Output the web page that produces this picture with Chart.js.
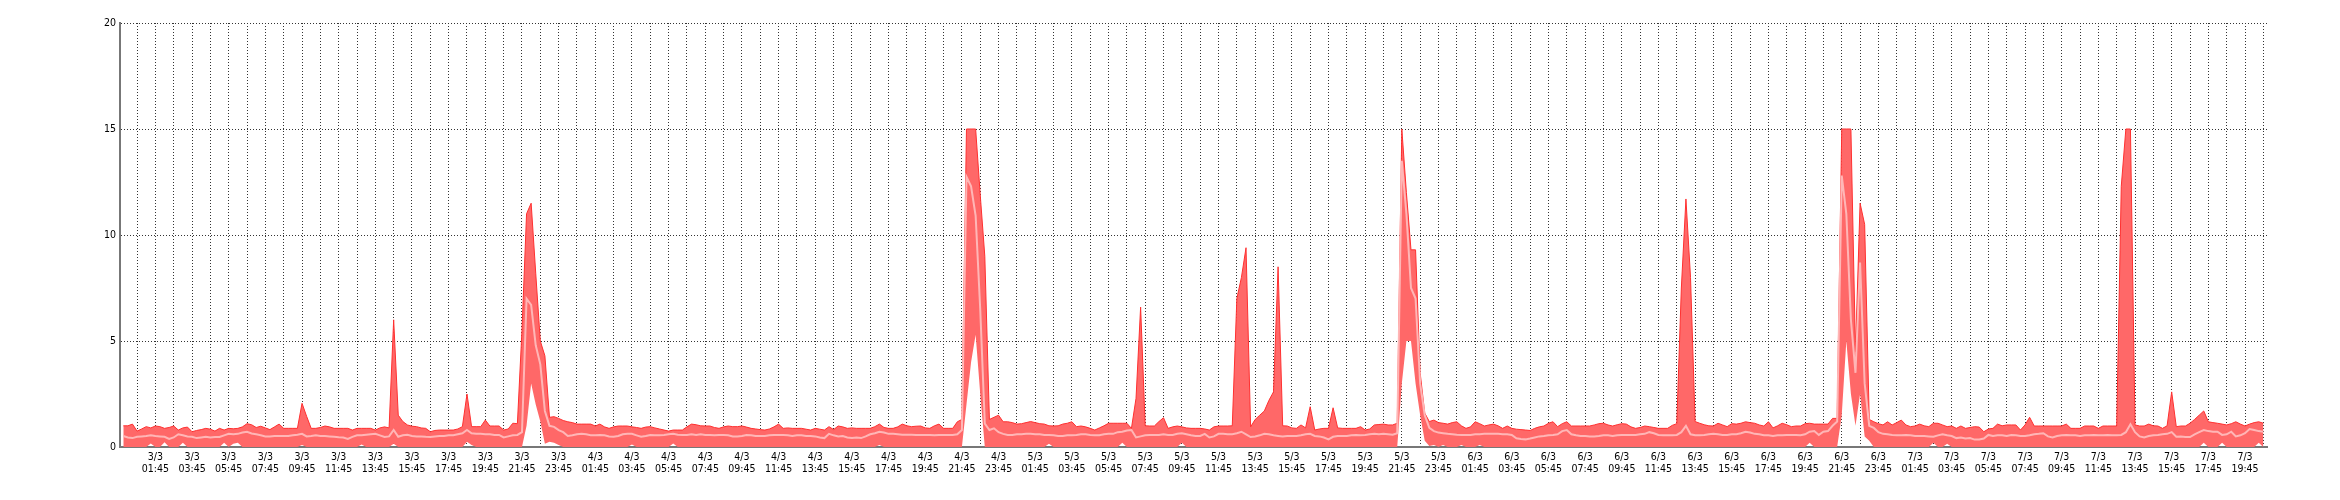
<!DOCTYPE html>
<html>
<head>
<meta charset="utf-8">
<script src="https://cdn.jsdelivr.net/npm/chart.js@4.4.1/dist/chart.umd.min.js"></script>
<style>
    html, body { margin: 0; padding: 0; background: #fff; }
    #wrap { width: 2340px; height: 500px; }
</style>
</head>
<body>
<div id="wrap"><canvas id="chart" width="2340" height="500"></canvas></div>
<script>
// samples start 3/3 00:00, one every 15 minutes
const startDay = 3;
const stepHours = 0.25;
const yTicks = [0, 5, 10, 15, 20];

// upper edge of the band
const maxVals = [
    1.0,1.0,1.08,0.75, 0.85,0.96,0.9,0.99, 0.96,0.88,0.92,0.99,      // 3/3 00:00
    0.8,0.9,0.94,0.72, 0.78,0.82,0.88,0.84, 0.75,0.88,0.8,0.88,      // 03:00
    0.86,0.88,0.95,1.1, 1.05,0.92,0.98,0.9, 0.82,0.95,1.08,0.88,     // 06:00
    0.88,0.88,0.88,2.06, 1.45,0.88,0.88,0.92, 0.99,0.95,0.88,0.88,   // 09:00
    0.88,0.88,0.8,0.88, 0.88,0.88,0.88,0.8, 0.9,0.95,0.9,6.0,        // 12:00
    1.5,1.2,1.04,0.98, 0.96,0.9,0.88,0.72, 0.78,0.8,0.8,0.8,         // 15:00
    0.8,0.85,0.96,2.5, 0.96,0.96,0.96,1.27, 0.99,0.99,0.99,0.8,      // 18:00
    0.85,1.12,1.1,5.5, 11.0,11.5,8.2,5.0, 4.3,1.4,1.43,1.35,         // 21:00
    1.25,1.19,1.15,1.08, 1.08,1.08,1.08,0.99, 1.08,0.95,0.88,0.95,   // 4/3 00:00
    0.99,0.99,0.99,0.95, 0.92,0.88,0.94,0.96, 0.9,0.85,0.8,0.75,     // 03:00
    0.8,0.8,0.8,0.95, 1.08,1.05,1.0,0.99, 0.99,0.92,0.88,0.95,       // 06:00
    0.99,0.96,0.96,0.99, 0.94,0.88,0.85,0.82, 0.8,0.85,0.95,1.08,    // 09:00
    0.88,0.9,0.88,0.88, 0.88,0.84,0.8,0.88, 0.84,0.8,0.96,0.82,      // 12:00
    0.99,0.95,0.88,0.9, 0.88,0.88,0.88,0.88, 0.96,1.08,0.92,0.88,    // 15:00
    0.88,0.95,1.08,1.0, 0.96,0.98,0.99,0.9, 0.88,1.0,1.08,0.88,      // 18:00
    0.88,0.88,1.19,1.3, 15,15,15,11.9, 9.0,1.3,1.4,1.5,              // 21:00
    1.19,1.19,1.15,1.08, 1.1,1.15,1.2,1.15, 1.1,1.08,1.0,0.99,       // 5/3 00:00
    1.0,1.08,1.12,1.19, 0.96,0.99,0.95,0.88, 0.8,0.9,1.0,1.12,       // 03:00
    1.12,1.12,1.12,1.12, 0.88,2.3,6.6,1.0, 0.99,0.99,1.2,1.38,       // 06:00
    0.88,0.95,0.99,0.95, 0.9,0.88,0.88,0.88, 0.85,0.8,0.95,0.99,     // 09:00
    0.99,0.99,1.0,7.0, 8.0,9.4,0.95,1.3, 1.5,1.7,2.2,2.6,            // 12:00
    8.5,1.0,0.99,0.9, 0.88,1.04,0.9,1.9, 0.8,0.85,0.88,0.88,         // 15:00
    1.85,0.9,0.88,0.88, 0.88,0.88,0.96,0.8, 0.85,1.04,1.06,1.08,     // 18:00
    1.04,1.04,1.12,15, 12.0,9.3,9.3,3.5, 1.6,1.2,1.27,1.15,          // 21:00
    1.12,1.08,1.15,1.19, 1.0,0.88,0.95,1.19, 1.1,0.99,1.04,1.08,     // 6/3 00:00
    1.0,0.88,0.99,0.88, 0.84,0.82,0.8,0.78, 0.88,0.95,0.99,1.12,     // 03:00
    1.19,0.96,1.1,1.19, 0.99,0.99,0.99,0.99, 0.99,1.04,1.1,1.12,     // 06:00
    1.04,0.99,1.05,1.1, 1.08,0.95,0.88,0.92, 0.99,0.96,0.92,0.88,    // 09:00
    0.88,0.88,1.02,1.1, 7.5,11.7,8.0,1.2, 1.12,1.05,1.0,0.99,        // 12:00
    1.12,1.04,0.96,1.1, 1.08,1.12,1.19,1.15, 1.12,1.04,0.99,1.19,    // 15:00
    0.9,1.0,1.12,1.05, 0.96,0.99,0.99,1.1, 1.12,1.08,1.08,1.08,      // 18:00
    1.08,1.35,1.35,15, 15,15,4.5,11.5, 10.5,1.3,1.19,1.1,            // 21:00
    1.04,1.19,1.04,1.15, 1.27,1.04,0.96,0.99, 1.08,1.0,0.96,1.12,    // 7/3 00:00
    1.12,1.04,0.96,0.99, 0.88,0.99,0.88,0.92, 0.96,0.94,0.72,0.85,   // 03:00
    0.88,1.08,1.0,1.04, 1.04,1.04,0.8,1.04, 1.4,0.99,0.99,0.99,      // 06:00
    0.99,0.99,0.99,0.99, 1.08,0.88,0.88,0.88, 0.99,0.99,0.99,0.88,   // 09:00
    0.99,0.99,0.99,0.99, 12.3,15,15,1.04, 0.99,0.99,1.08,1.0,        // 12:00
    0.99,0.88,1.0,2.6, 0.96,0.99,0.99,1.12, 1.3,1.5,1.7,1.19,        // 15:00
    1.15,1.12,1.08,1.04, 1.1,1.19,1.08,0.99, 1.08,1.15,1.19,1.12     // 18:00
];

// average line
const avgVals = [
    .52,.45,.42,.48, .5,.52,.55,.52, .5,.48,.38,.45,
    .6,.55,.5,.48, .42,.45,.48,.45, .47,.47,.55,.62,
    .6,.62,.68,.72, .64,.6,.55,.5, .5,.52,.52,.52,
    .52,.55,.58,.62, .5,.52,.55,.52, .52,.5,.48,.46,
    .45,.38,.48,.55, .55,.58,.6,.62, .55,.47,.5,.8,
    .48,.55,.58,.52, .5,.5,.48,.47, .5,.52,.52,.55,
    .55,.6,.65,.8, .65,.62,.62,.6, .6,.57,.57,.45,
    .5,.55,.57,.7, 7.0,6.7,4.8,3.9, 1.7,1.0,.95,.8,
    .7,.52,.55,.6, .62,.6,.55,.55, .57,.55,.5,.48,
    .52,.6,.62,.62, .55,.48,.52,.57, .55,.55,.57,.6,
    .62,.58,.57,.57, .6,.57,.6,.57, .57,.55,.57,.57,
    .55,.5,.5,.52, .57,.55,.52,.52, .52,.55,.57,.57,
    .57,.55,.52,.55, .55,.52,.52,.5, .45,.42,.62,.55,
    .5,.52,.45,.42, .45,.42,.5,.6, .65,.72,.68,.62,
    .62,.6,.58,.58, .58,.57,.57,.57, .57,.55,.57,.57,
    .57,.57,.6,.8, 12.75,12.3,10.9,6.5, 1.1,.8,.88,.7,
    .62,.57,.57,.6, .6,.62,.62,.6, .6,.57,.57,.55,
    .52,.52,.55,.55, .57,.6,.6,.57, .55,.55,.6,.62,
    .62,.7,.72,.78, .8,.45,.5,.55, .57,.57,.57,.6,
    .57,.57,.62,.65, .6,.55,.52,.52, .62,.45,.5,.62,
    .62,.6,.6,.65, .72,.6,.47,.5, .55,.62,.6,.55,
    .52,.49,.52,.52, .52,.55,.6,.62, .52,.5,.45,.36,
    .48,.52,.52,.52, .55,.57,.55,.57, .6,.62,.6,.62,
    .6,.58,.65,13.5, 11.0,7.5,7.0,3.0, 1.5,.9,.75,.68,
    .65,.62,.6,.58, .57,.57,.57,.6, .6,.62,.62,.62,
    .62,.6,.6,.57, .41,.38,.36,.4, .45,.5,.52,.55,
    .57,.6,.75,.8, .6,.55,.52,.52, .5,.5,.52,.55,
    .55,.52,.55,.57, .57,.57,.57,.6, .62,.7,.65,.57,
    .55,.55,.55,.57, .7,1.0,.6,.55, .55,.57,.6,.62,
    .6,.57,.57,.6, .6,.65,.72,.68, .62,.6,.55,.55,
    .52,.55,.55,.57, .57,.57,.55,.6, .72,.75,.57,.72,
    .75,1.0,1.2,12.8, 11.0,6.0,3.5,8.7, 3.0,1.0,.9,.7,
    .62,.6,.57,.55, .55,.57,.55,.52, .52,.52,.5,.48,
    .55,.6,.55,.52, .42,.45,.4,.42, .35,.35,.4,.57,
    .52,.55,.55,.52, .57,.55,.52,.52, .55,.6,.62,.65,
    .5,.45,.52,.55, .57,.55,.55,.52, .55,.55,.57,.55,
    .55,.57,.55,.55, .57,.7,1.07,.7, .5,.45,.52,.55,
    .57,.6,.62,.7, .48,.5,.47,.47, .6,.7,.8,.75,
    .72,.72,.57,.6, .72,.5,.55,.65, .85,.8,.75,.72
];

// lower edge of the band
const minVals = [
    0,0,0,0, 0,0,.17,0, 0,.22,0,0,
    0,.2,0,0, 0,0,0,0, 0,0,.2,0,
    .15,.2,0,0, 0,0,0,0, 0,0,0,0,
    0,0,0,.1, 0,0,0,0, 0,0,0,0,
    0,0,0,0, .12,0,0,0, 0,0,0,.15,
    0,0,0,0, 0,0,0,0, 0,0,0,0,
    0,0,0,.25, .1,0,0,0, 0,0,0,0,
    0,0,0,0, 1.0,3.0,2.0,1.2, .15,.25,.2,.1,
    0,0,0,0, 0,0,0,0, 0,0,0,0,
    0,0,0,.12, 0,0,0,0, 0,0,0,0,
    .16,0,0,0, 0,0,0,0, 0,0,0,0,
    0,0,0,0, 0,0,0,0, 0,0,0,0,
    0,0,0,0, 0,0,0,0, 0,0,0,0,
    0,0,0,0, 0,0,0,0, 0,.1,0,0,
    0,0,0,0, 0,0,0,0, 0,0,0,0,
    0,0,0,0, 2.0,4.0,5.3,2.5, 0,0,0,0,
    0,0,0,0, 0,0,0,0, 0,0,.15,0,
    0,0,0,0, 0,0,0,0, 0,0,0,0,
    0,0,.2,0, 0,0,0,0, 0,0,0,0,
    0,0,0,.2, 0,0,0,0, 0,0,0,0,
    0,0,0,0, 0,0,0,0, 0,0,0,0,
    0,0,0,0, 0,0,0,0, 0,0,0,0,
    0,0,0,0, 0,0,0,0, 0,0,0,0,
    0,0,0,3.0, 5.0,5.0,3.0,1.5, .3,.05,.1,0,
    .1,0,0,0, .1,0,0,0, .1,0,0,0,
    0,0,0,0, 0,0,0,0, 0,0,0,0,
    0,0,0,0, 0,0,0,0, 0,0,0,0,
    0,0,0,0, 0,0,0,0, 0,0,0,0,
    0,0,0,0, 0,0,0,0, 0,0,0,0,
    0,0,0,0, 0,0,0,0, 0,0,0,0,
    0,0,0,0, 0,0,0,0, .2,0,0,0,
    0,0,0,1.5, 5.0,2.5,1.0,2.5, .5,.3,0,0,
    0,0,0,0, 0,0,0,0, 0,0,0,.2,
    0,0,.15,0, 0,0,0,0, 0,0,0,0,
    0,0,0,0, 0,0,0,0, 0,0,0,0,
    0,0,0,0, 0,0,0,0, 0,0,0,0,
    0,0,0,0, 0,0,0,0, 0,0,0,0,
    0,0,0,0, 0,0,0,0, 0,0,.2,0,
    0,0,.2,0, 0,0,0,0, 0,0,.2,0
];

const toPoints = arr => arr.map((v, i) => ({ x: i * stepHours, y: v }));

// grid line every hour at :45, label every second one
const lastHour = (maxVals.length - 1) * stepHours;
const gridHours = [];
for (let h = 0.75; h <= lastHour + 0.001; h += 1) gridHours.push(h);

const pad2 = n => String(n).padStart(2, "0");
function tickLabel(h) {
    const day = startDay + Math.floor(h / 24);
    const hh = Math.floor(h % 24);
    const mm = Math.round((h % 1) * 60);
    return [`${day}/3`, `${pad2(hh)}:${pad2(mm)}`];
}

const font = { family: '"DejaVu Sans Condensed", "DejaVu Sans", sans-serif', size: 10.5, lineHeight: 1.15 };

new Chart(document.getElementById("chart"), {
    type: "line",
    data: {
        datasets: [
            {
                label: "avg",
                data: toPoints(avgVals),
                borderColor: "#ffb6b6",
                borderWidth: 2,
                pointRadius: 0,
                fill: false
            },
            {
                label: "max",
                data: toPoints(maxVals),
                borderColor: "#ff3030",
                borderWidth: 1,
                backgroundColor: "#ff6868",
                pointRadius: 0,
                fill: 2
            },
            {
                label: "min",
                data: toPoints(minVals),
                borderWidth: 0,
                borderColor: "rgba(255,160,160,0)",
                pointRadius: 0,
                fill: false
            }
        ]
    },
    options: {
        responsive: false,
        animation: false,
        layout: { padding: { left: 0, right: 73, top: 23, bottom: 0 } },
        plugins: { legend: { display: false }, tooltip: { enabled: false } },
        elements: { line: { tension: 0 } },
        scales: {
            x: {
                type: "linear",
                min: -0.18,
                max: 116.95,
                afterBuildTicks: s => { s.ticks = gridHours.map(v => ({ value: v })); },
                afterFit: s => { s.height = 53; },
                ticks: {
                    autoSkip: false,
                    maxRotation: 0,
                    padding: 4,
                    color: "#000",
                    font,
                    callback: (v, i) => (i % 2 === 1 ? tickLabel(v) : "")
                },
                grid: { color: "#333", lineWidth: 1, drawTicks: false },
                border: { color: "#777", width: 2, dash: [1, 2] }
            },
            y: {
                min: yTicks[0],
                max: yTicks[yTicks.length - 1],
                afterBuildTicks: s => { s.ticks = yTicks.map(v => ({ value: v })); },
                afterFit: s => { s.width = 120; },
                ticks: { padding: 4, color: "#000", font },
                grid: { color: "#333", lineWidth: 1, drawTicks: false },
                border: { color: "#777", width: 2, dash: [1, 2] }
            }
        }
    }
});
</script>
</body>
</html>
